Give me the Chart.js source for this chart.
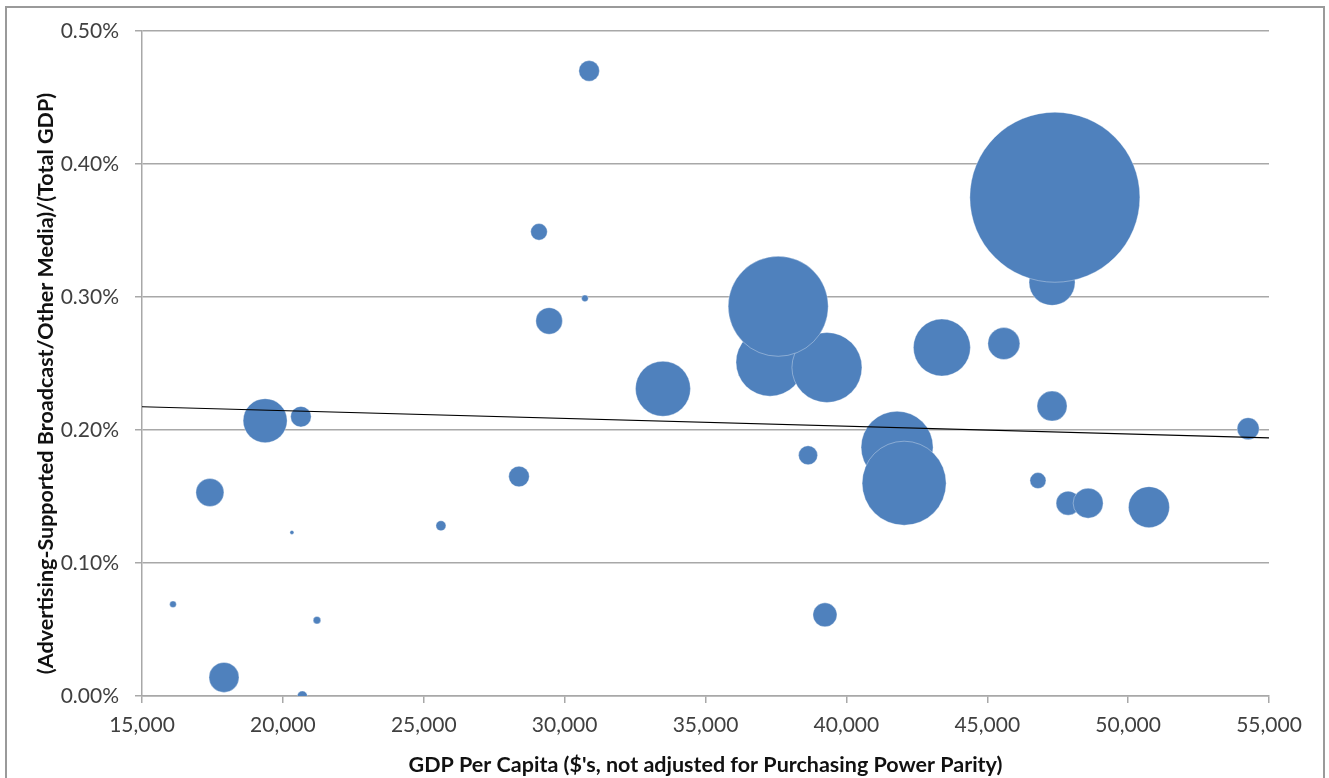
<!DOCTYPE html>
<html>
<head>
<meta charset="utf-8">
<script src="https://cdn.jsdelivr.net/npm/chart.js@4/dist/chart.umd.min.js"></script>
<style>
  html, body { margin: 0; padding: 0; background: #fff; }
  #wrap { position: relative; width: 1329px; height: 778px; overflow: hidden; }
  #frame { position: absolute; left: 5px; top: 6px; width: 1320px; height: 790px; box-sizing: border-box; border: 2px solid #9a9a9a; pointer-events: none; }
  canvas { position: absolute; left: 0; top: 0; }
</style>
</head>
<body>
<div id="wrap">
  <canvas id="c" width="1329" height="778"></canvas>
  <div id="frame"></div>
</div>
<script>
// GDP per capita (US$, not PPP adjusted)
const gdpPerCapita = [16100, 17410, 17910, 19370, 20640, 20320, 21210, 20690, 25610, 28380,
  29090, 29450, 30870, 30720, 33490, 37580, 37290, 39310, 38640, 41800,
  42050, 43390, 45590, 47400, 47300, 47300, 46800, 47870, 48580, 50740,
  54260, 39240];
// (Advertising-supported broadcast / other media) / total GDP, in percent
const adShare = [0.069, 0.153, 0.014, 0.207, 0.210, 0.123, 0.057, 0.000, 0.128, 0.165,
  0.349, 0.282, 0.470, 0.299, 0.231, 0.293, 0.251, 0.247, 0.181, 0.187,
  0.160, 0.262, 0.265, 0.375, 0.311, 0.218, 0.162, 0.145, 0.145, 0.142,
  0.201, 0.061];
// bubble size (relative market size, proportional to bubble area)
const bubbleSize = [1.1, 19.6, 22.5, 48.4, 10.6, 0.4, 1.4, 2.5, 2.5, 10.6,
  6.9, 17.7, 10.6, 1.1, 75.6, 250, 115.6, 122.5, 9, 129.6,
  176.4, 81.2, 25.6, 722.5, 52.9, 22.5, 6.4, 14.4, 22.5, 42,
  12.1, 14.4];
// linear trendline end points
const trendX = [15000, 55000];
const trendY = [0.2175, 0.1941];
// axis ticks
const xTicks = [15000, 20000, 25000, 30000, 35000, 40000, 45000, 50000, 55000];
const yTicks = [0, 0.1, 0.2, 0.3, 0.4, 0.5];

const bubbleData = gdpPerCapita
  .map((x, i) => ({ x: x, y: adShare[i], r: Math.sqrt(bubbleSize[i] * 10) }))
  .sort((a, b) => a.r - b.r);
const trendData = trendX.map((x, i) => ({ x: x, y: trendY[i] }));

const tickFont = { family: 'Lato', size: 21 };
const titleFont = { family: 'Lato', size: 21.5, weight: 'bold' };
const gridColor = '#a8a8a8';

new Chart(document.getElementById('c'), {
  type: 'bubble',
  data: {
    datasets: [
      {
        type: 'line',
        data: trendData,
        borderColor: '#000',
        borderWidth: 1.2,
        pointRadius: 0,
        fill: false,
        order: 0
      },
      {
        data: bubbleData,
        backgroundColor: '#4f81bd',
        borderColor: 'rgba(255,255,255,0.45)',
        borderWidth: 0.75,
        clip: 0,
        order: 1
      }
    ]
  },
  options: {
    responsive: false,
    animation: false,
    events: [],
    layout: { autoPadding: false, padding: { left: 0, right: 60, top: 31, bottom: 0 } },
    plugins: { legend: { display: false }, tooltip: { enabled: false } },
    scales: {
      x: {
        type: 'linear',
        min: 15000, max: 55000,
        afterBuildTicks: (s) => { s.ticks = xTicks.map(v => ({ value: v })); },
        afterFit: (s) => { s.height = 82; },
        ticks: {
          font: tickFont, color: '#404040', padding: 10, maxRotation: 0,
          callback: (v) => Number(v).toLocaleString('en-US')
        },
        grid: { drawOnChartArea: false, drawTicks: true, tickLength: 7, color: gridColor, lineWidth: 1.5 },
        border: { display: true, color: gridColor, width: 1.5 },
        title: {
          display: true,
          text: "GDP Per Capita ($'s, not adjusted for Purchasing Power Parity)",
          font: titleFont, color: '#111',
          padding: { top: 0, bottom: 0 }
        }
      },
      y: {
        type: 'linear',
        min: 0, max: 0.5,
        afterBuildTicks: (s) => { s.ticks = yTicks.map(v => ({ value: v })); },
        afterFit: (s) => { s.width = 142; },
        afterUpdate: (s) => {
          if (!s._titleShifted) {
            const orig = s.drawTitle;
            s.drawTitle = function () {
              const ctx = this.ctx;
              ctx.save();
              ctx.translate(0, 20);
              orig.apply(this, arguments);
              ctx.restore();
            };
            s._titleShifted = true;
          }
        },
        ticks: {
          font: tickFont, color: '#404040', padding: 16,
          callback: (v) => Number(v).toFixed(2) + '%'
        },
        grid: { drawOnChartArea: true, drawTicks: true, tickLength: 7, color: gridColor, lineWidth: 1.5 },
        border: { display: true, color: gridColor, width: 1.5 },
        title: {
          display: true,
          text: '(Advertising-Supported Broadcast/Other Media)/(Total GDP)',
          font: titleFont, color: '#111',
          padding: { top: 33, bottom: 0 }
        }
      }
    }
  }
});
</script>
</body>
</html>
